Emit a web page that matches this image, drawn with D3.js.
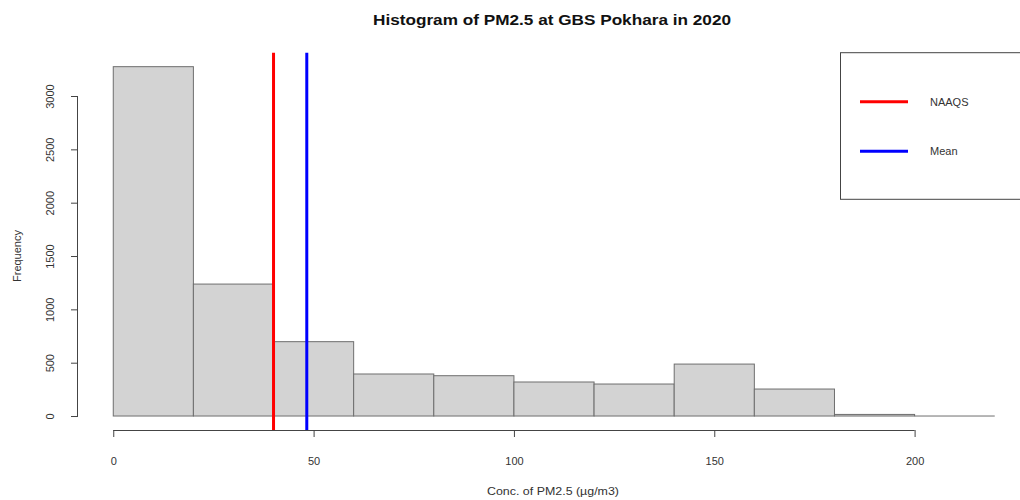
<!DOCTYPE html>
<html>
<head>
<meta charset="utf-8">
<script src="https://d3js.org/d3.v7.min.js"></script>
<style>
  html, body { margin: 0; padding: 0; background: #fff; }
  svg { display: block; font-family: "Liberation Sans", Arial, sans-serif; }
</style>
</head>
<body>
<svg id="chart" width="1020" height="500"></svg>
<script>
// ---- data ----
const binEdges = [0, 20, 40, 60, 80, 100, 120, 140, 160, 180, 200, 220];
const counts = [3275, 1237, 697, 394, 378, 319, 300, 487, 253, 15, 0];
const xTicks = [0, 50, 100, 150, 200];
const yTicks = [0, 500, 1000, 1500, 2000, 2500, 3000];
const refLines = [
  { name: "NAAQS", value: 40, color: "#ff0000" },
  { name: "Mean", value: 48.3, color: "#0000ff" }
];
const title = "Histogram of PM2.5 at GBS Pokhara in 2020";
const xLabel = "Conc. of PM2.5 (\u00b5g/m3)";
const yLabel = "Frequency";

// ---- layout ----
const svg = d3.select("#chart");
const x = d3.scaleLinear().domain([-8.8, 228.8]).range([78, 1030]);
const y = d3.scaleLinear().domain([-131, 3406]).range([430, 52.7]);
const plotTop = y(3406), plotBottom = y(-131), plotLeft = x(-8.8);
const axisColor = "#444";
const textColor = "#333";
const barStroke = "#6e6e6e";

// bars
const bins = counts.map((c, i) => ({ x0: binEdges[i], x1: binEdges[i + 1], c }));
svg.append("g").selectAll("rect").data(bins.filter(d => d.c > 0)).join("rect")
  .attr("x", d => x(d.x0))
  .attr("y", d => y(d.c))
  .attr("width", d => x(d.x1) - x(d.x0))
  .attr("height", d => y(0) - y(d.c))
  .attr("fill", "#d3d3d3")
  .attr("stroke", barStroke)
  .attr("stroke-width", 1);
// empty bins are drawn as flat lines on the baseline
svg.append("g").selectAll("line").data(bins.filter(d => d.c === 0)).join("line")
  .attr("x1", d => x(d.x0)).attr("x2", d => x(d.x1))
  .attr("y1", y(0)).attr("y2", y(0))
  .attr("stroke", barStroke).attr("stroke-width", 1);

// reference lines
svg.append("g").selectAll("line").data(refLines).join("line")
  .attr("x1", d => x(d.value)).attr("x2", d => x(d.value))
  .attr("y1", plotTop).attr("y2", plotBottom)
  .attr("stroke", d => d.color)
  .attr("stroke-width", 3);

// x axis
const xAxis = svg.append("g")
  .attr("transform", `translate(0,${plotBottom})`)
  .call(d3.axisBottom(x).tickValues(xTicks).tickFormat(d3.format("d"))
    .tickSize(7).tickPadding(20).tickSizeOuter(0));
xAxis.select(".domain").attr("d", `M${x(0)},0.5H${x(200)}`);
xAxis.selectAll(".domain, .tick line").attr("stroke", axisColor);
xAxis.selectAll(".tick text").attr("fill", textColor)
  .style("font-size", "11px").style("font-family", "'Liberation Sans', Arial, sans-serif");

// y axis
const yAxis = svg.append("g")
  .attr("transform", `translate(${plotLeft},0)`)
  .call(d3.axisLeft(y).tickValues(yTicks).tickFormat(d3.format("d"))
    .tickSize(7).tickSizeOuter(0));
yAxis.select(".domain").attr("d", `M-0.5,${y(0)}V${y(3000)}`);
yAxis.selectAll(".domain, .tick line").attr("stroke", axisColor);
yAxis.selectAll(".tick text")
  .attr("fill", textColor)
  .attr("x", null)
  .attr("text-anchor", "middle")
  .attr("transform", "translate(-28,0) rotate(-90)")
  .attr("dy", "0.35em")
  .style("font-size", "11px").style("font-family", "'Liberation Sans', Arial, sans-serif");

// titles
svg.append("text")
  .attr("x", 552).attr("y", 25)
  .attr("text-anchor", "middle")
  .attr("font-weight", "bold")
  .attr("font-size", 15.5)
  .attr("textLength", 358)
  .attr("lengthAdjust", "spacingAndGlyphs")
  .attr("fill", "#111")
  .text(title);
svg.append("text")
  .attr("x", 553).attr("y", 495)
  .attr("text-anchor", "middle")
  .attr("font-size", 11.5)
  .attr("textLength", 132)
  .attr("lengthAdjust", "spacingAndGlyphs")
  .attr("fill", textColor)
  .text(xLabel);
svg.append("text")
  .attr("transform", `translate(21,${(y(0) + y(3000)) / 2}) rotate(-90)`)
  .attr("text-anchor", "middle")
  .attr("font-size", 11)
  .attr("fill", textColor)
  .text(yLabel);

// legend
const leg = svg.append("g");
leg.append("rect")
  .attr("x", 840.5).attr("y", plotTop)
  .attr("width", 200).attr("height", 146.6)
  .attr("fill", "#fff").attr("stroke", "#444");
const legItems = leg.selectAll("g.item").data(refLines).join("g")
  .attr("class", "item")
  .attr("transform", (d, i) => `translate(0,${101.7 + i * 49.5})`);
legItems.append("line")
  .attr("x1", 860).attr("x2", 908)
  .attr("stroke", d => d.color).attr("stroke-width", 3);
legItems.append("text")
  .attr("x", 930).attr("dy", "0.35em")
  .attr("font-size", 11).attr("fill", textColor)
  .text(d => d.name);
</script>
</body>
</html>
